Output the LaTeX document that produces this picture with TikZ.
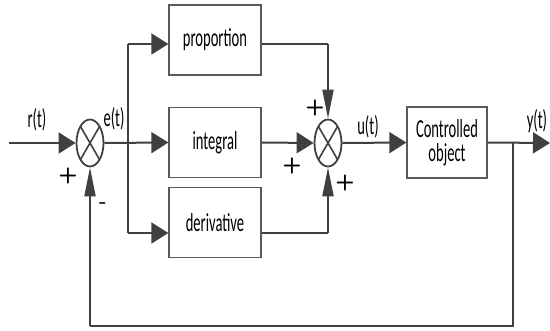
\documentclass[tikz,border=0pt]{standalone}
\usepackage{fontspec}
\newfontfamily\cfont[FakeStretch=0.56]{Carlito}
\usetikzlibrary{arrows.meta,shapes.geometric,calc}
\definecolor{ln}{HTML}{404040}
\definecolor{bx}{HTML}{5A5A5A}
\begin{document}
\begin{tikzpicture}[x=1pt,y=-1pt,
  line/.style={draw=ln,line width=2pt},
  ha/.style={-{Triangle[length=17pt,width=21pt]}},
  va/.style={-{Triangle[length=29pt,width=11pt]}},
  blk/.style={draw=bx,line width=1.3pt,fill=white,minimum width=92pt,minimum height=70pt,inner sep=0pt,font=\cfont\fontsize{26}{28}\selectfont,align=center},
  sumn/.style={ellipse,draw=ln,line width=1.8pt,minimum width=27pt,minimum height=47pt,inner sep=0pt},
  lbl/.style={font=\cfont\fontsize{26}{28}\selectfont,inner sep=0pt},
  sgn/.style={font=\fontsize{22}{24}\selectfont\bfseries\sffamily,inner sep=0pt}]
\useasboundingbox (0,0) rectangle (550,331);
\node[sumn] (s1) at (90,143) {};
\node[sumn] (s2) at (328,143) {};
\foreach \s in {s1,s2}{
  \draw[ln,line width=1.6pt] ([shift={(-9.5,-16.5)}]\s.center) -- ([shift={(9.5,16.5)}]\s.center);
  \draw[ln,line width=1.6pt] ([shift={(9.5,-16.5)}]\s.center) -- ([shift={(-9.5,16.5)}]\s.center);
}
\node[blk] (p) at (215,40) {proportion};
\node[blk] (i) at (215,142.5) {integral};
\node[blk] (d) at (215,222.5) {derivative};
\node[blk,minimum width=80pt,minimum height=71pt] (c) at (447,142.5) {Controlled\\[-4pt]object};
\coordinate (in) at (9,143);
\coordinate (br) at (128,143);
\coordinate (bt) at (128,44);
\coordinate (bb) at (128,233);
\coordinate (pc) at (328,44);
\coordinate (dc) at (328,233);
\coordinate (yb) at (513,143);
\coordinate (out) at (550,143);
\coordinate (fb) at (513,326);
\coordinate (fl) at (90,326);
% input
\draw[line,ha] (in) -- (s1.west);
\draw[line,ha] (s1.east) -- (i.west);
\draw[line] (bt) -- (bb);
\draw[line,ha] (bt) -- (bt -| p.west);
\draw[line,ha] (bb) -- (bb -| d.west);
% outputs to sum2
\draw[line] (pc -| p.east) -- (pc);
\draw[line,va] (pc) -- (s2.north);
\draw[line] (dc -| d.east) -- (dc);
\draw[line,va] (dc) -- (s2.south);
\draw[line,ha] (i.east) -- (s2.west);
\draw[line,ha] (s2.east) -- (c.west);
\draw[line,ha] (c.east) -- (out);
% feedback
\draw[line] (yb) -- (fb) -- (fl);
\draw[line,va] (fl) -- (s1.south);
% labels
\node[lbl] (lr) at (37,120) {r(t)};
\node[lbl] (le) at (114,119) {e(t)};
\node[lbl] (lu) at (368,127) {u(t)};
\node[lbl] (ly) at (537,121) {y(t)};
\node[sgn] (p1) at (68,176) {+};
\node[sgn] (m1) at (103,206) {-};
\node[sgn] (p2) at (315,108) {+};
\node[sgn] (p3) at (292,166) {+};
\node[sgn] (p4) at (345,183) {+};
\end{tikzpicture}
\end{document}
